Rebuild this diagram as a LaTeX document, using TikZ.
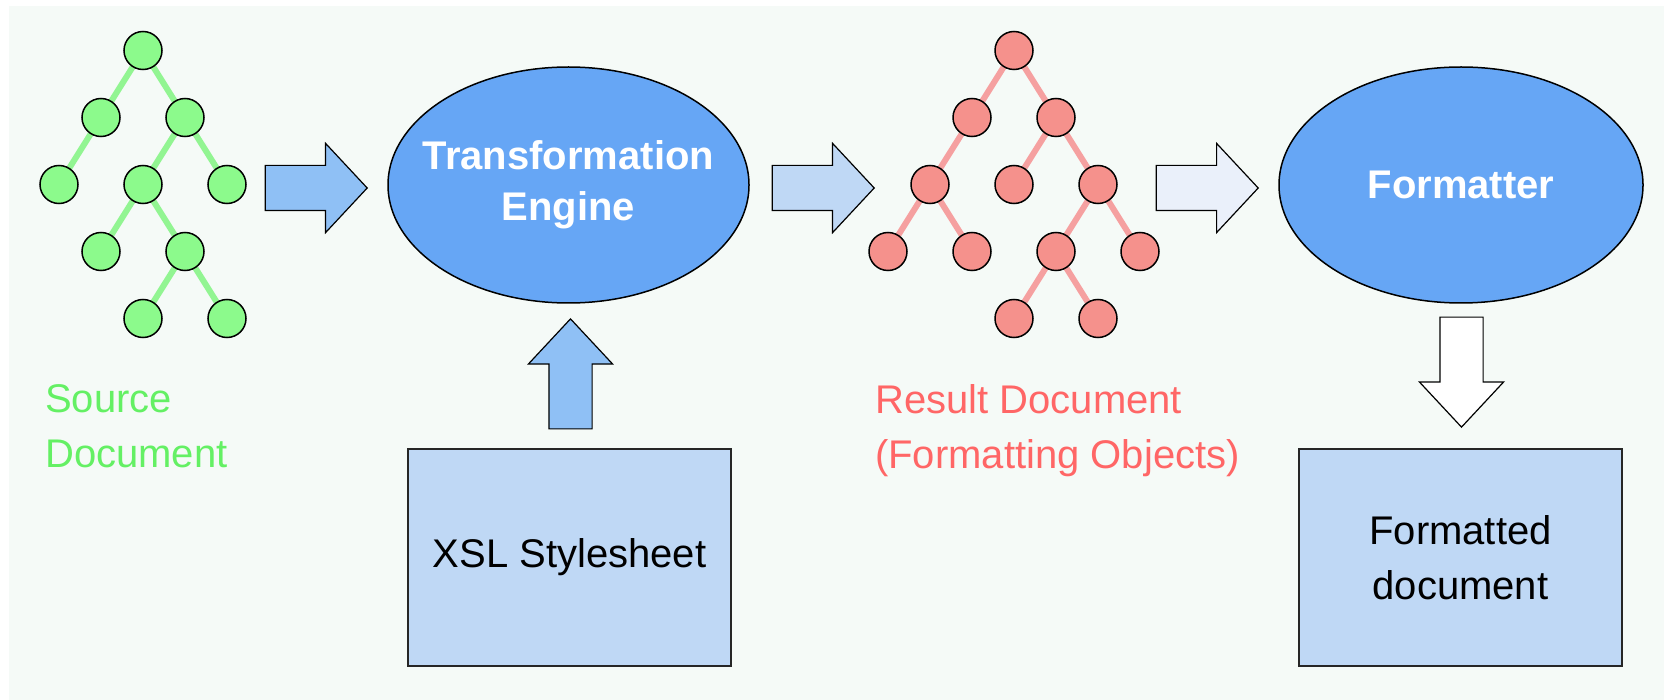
\documentclass[tikz,border=0pt]{standalone}
\usepackage{fontspec}
\setmainfont{Liberation Sans}
\usepackage{xcolor}
\usepackage{tikz}
\usetikzlibrary{backgrounds}
\usetikzlibrary{shapes.geometric}
\usetikzlibrary{shapes.arrows}
\usetikzlibrary{matrix}

\definecolor{bgmint}{RGB}{245,250,247}
\definecolor{srcgreen}{RGB}{140,250,140}
\definecolor{srcedge}{RGB}{146,245,146}
\definecolor{srctext}{RGB}{100,240,100}
\definecolor{resred}{RGB}{245,145,140}
\definecolor{resedge}{RGB}{245,160,160}
\definecolor{restext}{RGB}{255,102,102}
\definecolor{engineblue}{RGB}{102,166,245}
\definecolor{arrowblue}{RGB}{143,192,245}
\definecolor{paleblue}{RGB}{191,216,245}
\definecolor{faintblue}{RGB}{234,240,250}

\begin{document}
\begin{tikzpicture}[x=1pt,y=-1pt,
                        ball/.style={circle,draw=black,line width=1.5pt,minimum size=38pt,inner sep=0pt,outer sep=0pt},
                        srcball/.style={ball,fill=srcgreen},
                        resball/.style={ball,fill=resred},
                        branch/.style={line width=6pt},
                        engine/.style={ellipse,draw=black,line width=1.5pt,fill=engineblue,minimum width=361pt,minimum height=236pt,inner xsep=-25pt,inner ysep=0pt,text=white,align=center,font=\bfseries\fontsize{40}{51}\selectfont},
                        sheet/.style={rectangle,draw=black!85,line width=2pt,fill=paleblue,minimum width=323pt,minimum height=217pt,inner sep=0pt,align=center,font=\fontsize{40}{55}\selectfont},
                        fatarrow/.style={single arrow,draw=black,line width=1.2pt,inner xsep=0pt,inner ysep=22pt,single arrow head extend=22pt,single arrow tip angle=94,minimum height=102pt},
                        uparrow/.style={fatarrow,inner ysep=21pt,single arrow head extend=20.5pt,single arrow tip angle=86,minimum height=110pt},
                        doclabel/.style={anchor=north west,inner sep=0pt,align=left,font=\fontsize{40}{55}\selectfont}]
                    \useasboundingbox (0,0) rectangle (1664,700);
                    \begin{scope}[on background layer]
                        \fill[white] (0,0) rectangle (1664,700);
                        \fill[bgmint] (9,6) rectangle (1664,700);
                    \end{scope}
                    % source tree
                    \matrix (srctree) [row sep=27.5pt,column sep=2.5pt] at (143,184.5)
                        {
                            & & \node [srcball] (s1) {}; & & \\
                            & \node [srcball] (s2) {}; & & \node [srcball] (s3) {}; & \\
                            \node [srcball] (s4) {}; & & \node [srcball] (s5) {}; & & \node [srcball] (s6) {}; \\
                            & \node [srcball] (s7) {}; & & \node [srcball] (s8) {}; & \\
                            & & \node [srcball] (s9) {}; & & \node [srcball] (s10) {}; \\
                        };
                    % result tree
                    \matrix (restree) [row sep=27.5pt,column sep=2.5pt] at (1014,184.5)
                        {
                            & & & \node [resball] (r1) {}; & & & \\
                            & & \node [resball] (r2) {}; & & \node [resball] (r3) {}; & & \\
                            & \node [resball] (r4) {}; & & \node [resball] (r5) {}; & & \node [resball] (r6) {}; & \\
                            \node [resball] (r7) {}; & & \node [resball] (r8) {}; & & \node [resball] (r9) {}; & & \node [resball] (r10) {}; \\
                            & & & \node [resball] (r11) {}; & & \node [resball] (r12) {}; & \\
                        };
                    \begin{scope}[on background layer]
                        \path[branch,draw=srcedge]
                            (s1) edge (s2) edge (s3)
                            (s2) edge (s4)
                            (s3) edge (s5) edge (s6)
                            (s5) edge (s7) edge (s8)
                            (s8) edge (s9) edge (s10)
                        ;
                        \path[branch,draw=resedge]
                            (r1) edge (r2) edge (r3)
                            (r2) edge (r4)
                            (r3) edge (r5) edge (r6)
                            (r4) edge (r7) edge (r8)
                            (r6) edge (r9) edge (r10)
                            (r9) edge (r11) edge (r12)
                        ;
                    \end{scope}
                    \node [doclabel,text=srctext] (srcname) at (45,384) {Source\\Document};
                    \node [doclabel,text=restext] (resname) at (875,384) {Result Document\\(Formatting Objects)};
                    % engine, formatter and their inputs
                    \node [engine] (engine) at (568.5,185) {Transformation\\Engine};
                    \node [engine,minimum width=364pt] (formatter) at (1461,185) {Formatter};
                    \node [sheet] (xsl) at (569.5,557.5) {XSL Stylesheet};
                    \node [sheet] (output) at (1460.5,557.5) {Formatted\\document};
                    \node [fatarrow,fill=arrowblue,anchor=tip] (feed) at (368,188) {};
                    \node [fatarrow,fill=paleblue,anchor=tip] (emit) at (875,188) {};
                    \node [fatarrow,fill=faintblue,anchor=tip] (pass) at (1259,188) {};
                    \node [uparrow,fill=arrowblue,anchor=tip,rotate=90] (apply) at (570.5,318) {};
                    \node [uparrow,fill=white,anchor=tip,rotate=-90] (render) at (1461.5,428) {};
                    \end{tikzpicture}
\end{document}
